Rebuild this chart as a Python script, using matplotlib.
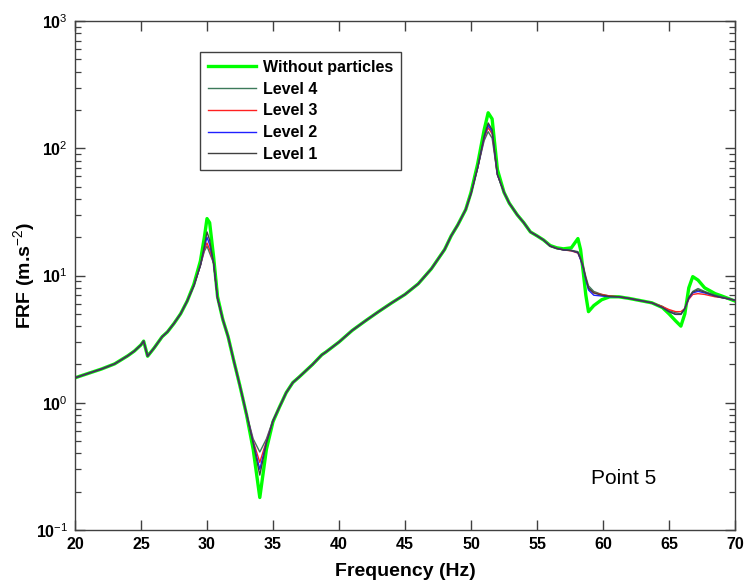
import math

import matplotlib
matplotlib.use("Agg")
import matplotlib.pyplot as plt
from matplotlib.ticker import FixedLocator, FuncFormatter, LogLocator, NullFormatter

plt.rcParams["font.family"] = ["Liberation Sans", "DejaVu Sans"]
plt.rcParams["mathtext.fontset"] = "custom"
plt.rcParams["mathtext.rm"] = "Liberation Sans"
plt.rcParams["mathtext.bf"] = "Liberation Sans:bold"

# Frequency grid (Hz)
freq = [20, 21, 22, 23, 24, 24.5, 25.0, 25.2, 25.5, 26, 26.6, 27, 27.5, 28, 28.5,
        29, 29.5, 29.8, 30.0, 30.2, 30.5, 30.8, 31.2, 31.6, 32, 32.5, 33, 33.5,
        34.0, 34.5, 35, 35.5, 36, 36.5, 37, 38, 38.7, 39, 40, 41, 42, 43, 44, 45,
        46, 47, 48, 48.5, 49, 49.6, 50, 50.5, 51, 51.3, 51.6, 52, 52.5, 52.9,
        53.5, 54, 54.5, 55, 55.5, 56, 56.5, 57, 57.6, 58.1, 58.3, 58.5, 58.7,
        58.9, 59.3, 59.9, 60.5, 61.2, 62, 63, 63.7, 64.5, 65, 65.5, 65.9, 66.2,
        66.5, 66.8, 67.2, 67.7, 68.5, 69, 70]

# FRF magnitude, structure without particles
frf_none = [1.57, 1.70, 1.84, 2.02, 2.34, 2.55, 2.85, 3.05, 2.32, 2.70, 3.30, 3.60,
            4.20, 5.00, 6.30, 8.50, 13.0, 20.0, 28.0, 26.0, 14.0, 6.80, 4.50, 3.30,
            2.20, 1.35, 0.80, 0.43, 0.18, 0.43, 0.71, 0.93, 1.20, 1.44, 1.60, 2.00,
            2.38, 2.50, 3.00, 3.70, 4.40, 5.20, 6.10, 7.10, 8.60, 11.3, 16.0, 20.5,
            25.0, 33.0, 45.0, 75.0, 140, 190, 170, 68.0, 45.0, 37.0, 30.0, 26.0,
            22.0, 20.5, 19.0, 17.2, 16.5, 16.2, 16.5, 19.5, 16.0, 10.7, 7.00, 5.20,
            5.80, 6.45, 6.80, 6.80, 6.60, 6.30, 6.10, 5.60, 5.00, 4.40, 4.00, 5.00,
            8.00, 9.80, 9.20, 8.00, 7.20, 6.90, 6.30]

# FRF magnitude, particle filling level 4
frf_l4 = [1.57, 1.70, 1.84, 2.02, 2.34, 2.55, 2.85, 3.05, 2.32, 2.70, 3.30, 3.60,
          4.20, 5.00, 6.30, 8.30, 12.0, 15.5, 17.0, 15.0, 12.5, 6.60, 4.50, 3.30,
          2.20, 1.35, 0.82, 0.52, 0.41, 0.52, 0.73, 0.93, 1.20, 1.44, 1.60, 2.00,
          2.38, 2.50, 3.00, 3.70, 4.40, 5.20, 6.10, 7.10, 8.60, 11.3, 16.0, 20.5,
          25.0, 33.0, 44.0, 70.0, 115, 135, 120, 62.0, 45.0, 37.0, 30.0, 26.0,
          22.0, 20.5, 19.0, 17.2, 16.4, 16.0, 15.8, 15.4, 13.8, 12.0, 9.80, 8.30,
          7.50, 7.10, 6.90, 6.80, 6.60, 6.30, 6.10, 5.70, 5.30, 5.10, 5.00, 5.50,
          6.70, 7.50, 7.90, 7.50, 7.00, 6.80, 6.40]

# FRF magnitude, particle filling level 3
frf_l3 = [1.57, 1.70, 1.84, 2.02, 2.34, 2.55, 2.85, 3.05, 2.32, 2.70, 3.30, 3.60,
          4.20, 5.00, 6.30, 8.30, 12.0, 16.0, 18.0, 16.0, 12.5, 6.60, 4.50, 3.30,
          2.20, 1.35, 0.81, 0.50, 0.34, 0.50, 0.72, 0.93, 1.20, 1.44, 1.60, 2.00,
          2.38, 2.50, 3.00, 3.70, 4.40, 5.20, 6.10, 7.10, 8.60, 11.3, 16.0, 20.5,
          25.0, 33.0, 44.0, 70.0, 120, 145, 130, 62.0, 45.0, 37.0, 30.0, 26.0,
          22.0, 20.5, 19.0, 17.0, 16.3, 15.9, 15.6, 15.0, 13.4, 11.6, 9.40, 7.90,
          7.30, 7.10, 6.90, 6.80, 6.60, 6.30, 6.10, 5.70, 5.40, 5.20, 5.20, 5.50,
          6.50, 7.10, 7.20, 7.10, 6.80, 6.70, 6.40]

# FRF magnitude, particle filling level 2
frf_l2 = [1.57, 1.70, 1.84, 2.02, 2.34, 2.55, 2.85, 3.05, 2.32, 2.70, 3.30, 3.60,
          4.20, 5.00, 6.30, 8.30, 12.0, 16.5, 20.0, 17.5, 12.5, 6.60, 4.50, 3.30,
          2.20, 1.35, 0.81, 0.49, 0.30, 0.49, 0.72, 0.93, 1.20, 1.44, 1.60, 2.00,
          2.38, 2.50, 3.00, 3.70, 4.40, 5.20, 6.10, 7.10, 8.60, 11.3, 16.0, 20.5,
          25.0, 33.0, 44.0, 70.0, 122, 152, 135, 62.0, 45.0, 37.0, 30.0, 26.0,
          22.0, 20.5, 19.0, 17.0, 16.3, 15.9, 15.7, 15.1, 13.3, 11.5, 9.20, 7.70,
          7.00, 6.90, 6.80, 6.80, 6.60, 6.30, 6.10, 5.60, 5.20, 4.95, 4.95, 5.50,
          6.60, 7.30, 7.50, 7.30, 6.90, 6.70, 6.40]

# FRF magnitude, particle filling level 1
frf_l1 = [1.57, 1.70, 1.84, 2.02, 2.34, 2.55, 2.85, 3.05, 2.32, 2.70, 3.30, 3.60,
          4.20, 5.00, 6.30, 8.30, 12.0, 17.0, 22.0, 19.0, 12.5, 6.60, 4.50, 3.30,
          2.20, 1.35, 0.81, 0.48, 0.27, 0.48, 0.72, 0.93, 1.20, 1.44, 1.60, 2.00,
          2.38, 2.50, 3.00, 3.70, 4.40, 5.20, 6.10, 7.10, 8.60, 11.3, 16.0, 20.5,
          25.0, 33.0, 44.0, 70.0, 125, 158, 140, 62.0, 45.0, 37.0, 30.0, 26.0,
          22.0, 20.5, 19.0, 17.0, 16.3, 15.9, 15.7, 15.2, 13.5, 11.7, 9.50, 8.00,
          7.30, 7.00, 6.85, 6.80, 6.60, 6.30, 6.10, 5.60, 5.20, 4.95, 4.95, 5.50,
          6.70, 7.40, 7.70, 7.40, 6.90, 6.70, 6.40]

labels = ["Without particles", "Level 4", "Level 3", "Level 2", "Level 1"]
colors = ["#00ff00", "#3c7a5a", "#ff2020", "#2020ff", "#404040"]
widths = [2.4, 1.0, 1.0, 1.0, 1.0]
series = [frf_none, frf_l4, frf_l3, frf_l2, frf_l1]

x_ticks = [20, 25, 30, 35, 40, 45, 50, 55, 60, 65, 70]

fig = plt.figure(figsize=(7.45, 5.82), dpi=100)
ax = fig.add_axes([75 / 745, 52 / 582, 660 / 745, 509 / 582])

for vals, lab, col, lw in zip(series, labels, colors, widths):
    ax.plot(freq, vals, color=col, lw=lw, label=lab)

ax.set_yscale("log")
ax.set_xlim(20, 70)
ax.set_ylim(0.1, 1000)

ax.xaxis.set_major_locator(FixedLocator(x_ticks))
ax.yaxis.set_major_locator(LogLocator(base=10, numticks=10))
ax.yaxis.set_minor_locator(LogLocator(base=10, subs=range(2, 10), numticks=10))
ax.yaxis.set_minor_formatter(NullFormatter())


def _exp_label(v, pos):
    e = int(round(math.log10(v)))
    return r"$\mathbf{10}^{%d}$" % e


ax.yaxis.set_major_formatter(FuncFormatter(_exp_label))

edge = "#404040"
for sp in ax.spines.values():
    sp.set_color(edge)
    sp.set_linewidth(1.0)

ax.tick_params(which="both", direction="in", top=True, right=True, color=edge)
ax.tick_params(which="major", length=7, width=1.0, labelsize=11.5, pad=5)
ax.tick_params(which="minor", length=4, width=0.9)
for t in ax.get_xticklabels():
    t.set_fontweight("bold")

ax.set_xlabel("Frequency (Hz)", fontsize=14, fontweight="bold", labelpad=8)
ax.set_ylabel(r"FRF (m.s$^{-2}$)", fontsize=14, fontweight="bold")
ax.yaxis.set_label_coords(-0.056, 0.5)

leg = ax.legend(loc="upper left", bbox_to_anchor=(0.19, 0.939), borderaxespad=0,
                fancybox=False, edgecolor=edge, framealpha=1,
                prop={"size": 11.5, "weight": "bold"}, handlelength=3.0,
                handletextpad=0.4, labelspacing=0.42, borderpad=0.5)
leg.get_frame().set_linewidth(1.0)

ax.text(0.831, 0.102, "Point 5", transform=ax.transAxes, ha="center",
        va="center", fontsize=15)

fig.savefig("out.png", dpi=100)
